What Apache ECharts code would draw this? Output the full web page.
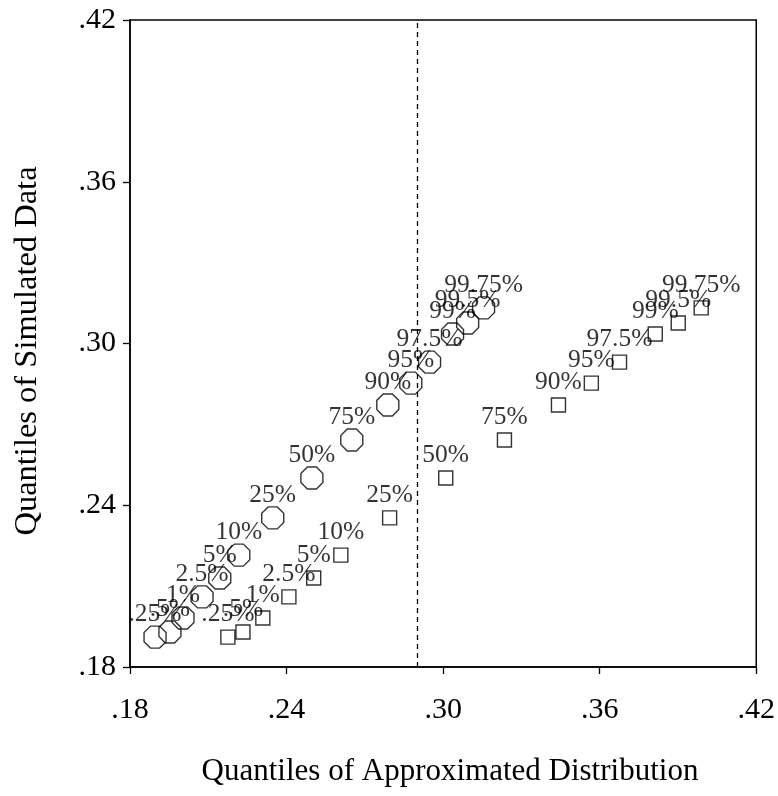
<!DOCTYPE html>
<html>
<head>
<meta charset="utf-8">
<script src="https://cdn.jsdelivr.net/npm/echarts@6/dist/echarts.min.js"></script>
<style>
html,body{margin:0;padding:0;background:#fff;}
#chart{width:778px;height:796px;}
</style>
</head>
<body>
<div id="chart"></div>
<script>
// Quantile labels
const quantLabels = ['.25%','.5%','1%','2.5%','5%','10%','25%','50%','75%','90%','95%','97.5%','99%','99.5%','99.75%'];
// Quantiles of simulated data (y), shared by both series
const simY = [0.1911,0.1930,0.1982,0.2060,0.2130,0.2215,0.2353,0.2501,0.2642,0.2772,0.2853,0.2931,0.3035,0.3076,0.3132];
// Quantiles of approximated distribution (x), circle series
const approxXCircle = [0.1896,0.1953,0.2003,0.2076,0.2144,0.2217,0.2347,0.2497,0.2650,0.2788,0.2876,0.2948,0.3036,0.3094,0.3155];
// Quantiles of approximated distribution (x), square series
const approxXSquare = [0.2175,0.2233,0.2309,0.2409,0.2504,0.2608,0.2795,0.3010,0.3235,0.3442,0.3568,0.3676,0.3813,0.3901,0.3989];
// Reference vertical line
const refLineX = [0.2879];
// Axis ticks
const axisMin = 0.18, axisMax = 0.42, axisStep = 0.06;
const xTitle = 'Quantiles of Approximated Distribution';
const yTitle = 'Quantiles of Simulated Data';

const FONT = 'Liberation Serif';
const octagon = 'path://M-0.383,-0.924L0.383,-0.924L0.924,-0.383L0.924,0.383L0.383,0.924L-0.383,0.924L-0.924,0.383L-0.924,-0.383Z';
const fmt = v => v.toFixed(2).replace(/^0/, '');

function pts(xs){ return xs.map((x,i)=>({value:[x, simY[i]], name: quantLabels[i]})); }

const labelCfg = {
  show: true, position: 'inside', offset: [0,-23],
  formatter: p => p.name,
  color: '#000', fontFamily: FONT, fontSize: 25.5,
  textBorderWidth: 0
};

const chart = echarts.init(document.getElementById('chart'), null, {renderer:'canvas'});
chart.setOption({
  animation: false,
  backgroundColor: '#fff',
  grid: {left:130, right:21, top:20, bottom:129, show:true, borderColor:'#000', borderWidth:1.5, containLabel:false},
  xAxis: {
    type:'value', min:axisMin, max:axisMax, interval:axisStep,
    axisLine:{show:true, onZero:false, lineStyle:{color:'#000', width:1.5}},
    axisTick:{show:true, length:7, lineStyle:{color:'#000', width:1.3}},
    axisLabel:{formatter:fmt, color:'#000', fontFamily:FONT, fontSize:30, margin:28},
    splitLine:{show:false}
  },
  yAxis: {
    type:'value', min:axisMin, max:axisMax, interval:axisStep,
    axisLine:{show:true, onZero:false, lineStyle:{color:'#000', width:1.5}},
    axisTick:{show:true, length:7, lineStyle:{color:'#000', width:1.3}},
    axisLabel:{formatter:fmt, color:'#000', fontFamily:FONT, fontSize:30, margin:14},
    splitLine:{show:false}
  },
  graphic: [
    {type:'text', x:450, y:772, style:{text:xTitle, font:'31px "Liberation Serif"', fill:'#000', align:'center', verticalAlign:'middle'}},
    {type:'text', x:27, y:351, rotation:Math.PI/2, style:{text:yTitle, font:'32.5px "Liberation Serif"', fill:'#000', align:'center', verticalAlign:'middle'}}
  ],
  series: [
    {
      type:'scatter', name:'circle', symbol:octagon, symbolSize:22,
      itemStyle:{color:'rgba(0,0,0,0)', borderColor:'#000', borderWidth:1.4},
      label: labelCfg,
      data: pts(approxXCircle),
      markLine: {
        silent:true, symbol:['none','none'], label:{show:false},
        lineStyle:{color:'#000', type:[5,4], width:1.3},
        data: refLineX.map(x=>({xAxis:x}))
      },
      z: 3
    },
    {
      type:'scatter', name:'square', symbol:'rect', symbolSize:14,
      itemStyle:{color:'rgba(0,0,0,0)', borderColor:'#000', borderWidth:1.4},
      label: labelCfg,
      data: pts(approxXSquare),
      z: 3
    }
  ]
});
</script>
</body>
</html>
